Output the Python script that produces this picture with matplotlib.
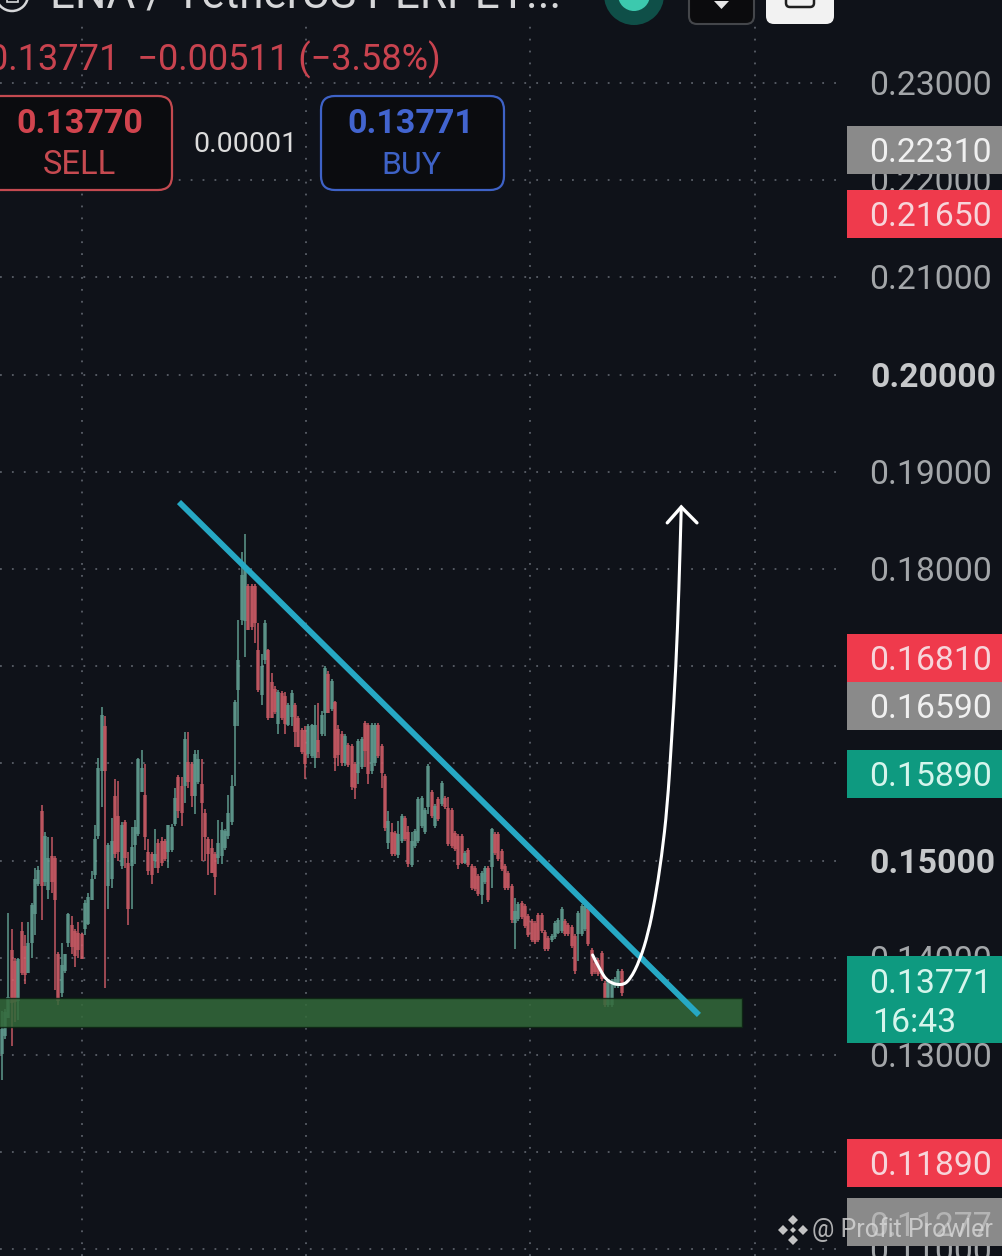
import matplotlib
matplotlib.use("Agg")
import matplotlib.pyplot as plt
from matplotlib.patches import FancyBboxPatch, Rectangle, Circle, Polygon, PathPatch
from matplotlib.path import Path

plt.rcParams['font.family'] = ['Roboto', 'DejaVu Sans']

BG = '#0f1219'
UP = '#66a698'
DOWN = '#d65f6a'

# Candles, in ten-thousandths of a price unit
high = [1345,1347,1446,1430,1400,1400,1437,1423,1437,1456,1492,1494,1557,1529,1524,1524,1505,1406,1415,1404,
        1446,1443,1430,1437,1426,1459,1467,1489,1537,1606,1658,1649,1518,1544,1584,1582,1540,1542,1509,1535,
        1542,1606,1614,1599,1522,1509,1533,1522,1524,1522,1537,1538,1575,1588,1586,1632,1632,1601,1614,1614,
        1605,1553,1524,1522,1509,1542,1540,1533,1568,1588,1665,1748,1818,1836,1785,1785,1785,1744,1713,1748,
        1718,1693,1680,1676,1674,1673,1662,1676,1662,1649,1636,1638,1641,1641,1660,1662,1654,1700,1695,
        1687,1664,1640,1633,1630,1621,1620,1601,1625,1627,1644,1642,1642,1642,1642,1620,1589,1551,1539,1530,
        1541,1548,1546,1536,1529,1532,1565,1566,1554,1599,1573,1558,1565,1582,1566,1565,1554,1530,1527,1527,
        1510,1513,1496,1494,1486,1489,1494,1494,1534,1529,1529,1512,1496,1489,1476,1462,1457,1458,1455,1445,
        1440,1438,1446,1446,1429,1422,1424,1438,1441,1452,1440,1436,1434,1424,1448,1455,1455,1452,1410,1397,
        1400,1407,1376,1378,1378,1380,1388,1388]
low = [1274,1316,1338,1309,1334,1336,1382,1373,1384,1400,1423,1474,1439,1474,1461,1467,1367,1351,1360,1384,
       1411,1404,1391,1400,1399,1423,1434,1459,1481,1522,1555,1369,1450,1472,1503,1500,1491,1492,1434,1450,
       1496,1525,1571,1511,1485,1476,1492,1487,1494,1500,1492,1509,1536,1544,1536,1559,1575,1555,1548,1579,
       1500,1500,1485,1487,1465,1496,1496,1511,1522,1537,1577,1638,1742,1709,1737,1737,1724,1673,1660,1702,
       1645,1647,1651,1630,1645,1630,1638,1638,1617,1617,1610,1584,1606,1606,1595,1612,1628,1628,1652,
       1654,1592,1597,1597,1597,1596,1573,1563,1579,1594,1596,1579,1589,1597,1606,1575,1530,1512,1505,1505,
       1503,1518,1520,1493,1493,1513,1518,1534,1527,1548,1544,1534,1541,1556,1553,1515,1513,1510,1491,1496,
       1496,1493,1470,1469,1464,1455,1476,1457,1472,1506,1500,1489,1470,1470,1436,1409,1438,1440,1431,1421,
       1416,1414,1416,1426,1407,1407,1416,1419,1424,1426,1422,1422,1410,1383,1397,1422,1428,1412,1381,1383,
       1381,1376,1349,1349,1349,1369,1369,1361]
open_ = [1301,1320,1338,1408,1397,1356,1428,1412,1384,1415,1445,1476,1551,1478,1470,1505,1503,1404,1364,1386,
         1415,1434,1428,1426,1424,1430,1435,1459,1485,1525,1592,1638,1474,1481,1566,1546,1494,1540,1498,1494,
         1516,1527,1571,1568,1509,1507,1500,1518,1520,1520,1509,1511,1538,1586,1577,1577,1601,1599,1566,1581,
         1579,1549,1522,1513,1507,1503,1505,1513,1525,1540,1638,1676,1748,1746,1783,1783,1783,1717,1670,1706,
         1717,1684,1677,1641,1672,1669,1640,1648,1660,1647,1634,1634,1610,1608,1606,1624,1630,1652,1692,
         1656,1663,1635,1630,1600,1619,1618,1599,1590,1596,1642,1640,1592,1600,1640,1618,1587,1518,1529,1528,
         1506,1520,1544,1529,1495,1515,1520,1536,1529,1555,1571,1536,1563,1558,1564,1554,1552,1528,1525,1525,
         1498,1511,1494,1492,1484,1465,1478,1492,1493,1527,1527,1510,1494,1487,1474,1436,1440,1456,1453,1443,
         1438,1436,1444,1444,1427,1420,1418,1421,1426,1428,1438,1434,1432,1422,1424,1425,1430,1450,1408,1395,
         1398,1405,1374,1351,1351,1371,1371,1386]
close = [1327,1344,1360,1353,1355,1399,1384,1382,1415,1454,1481,1490,1474,1525,1503,1478,1459,1356,1393,1404,
         1445,1411,1402,1408,1399,1456,1463,1481,1522,1595,1650,1592,1516,1520,1507,1509,1537,1503,1450,1514,
         1535,1605,1595,1524,1489,1485,1507,1492,1498,1502,1537,1535,1564,1551,1549,1625,1581,1566,1610,1605,
         1559,1524,1507,1487,1483,1518,1531,1530,1549,1577,1663,1706,1794,1801,1737,1740,1744,1676,1700,1744,
         1647,1647,1653,1673,1647,1641,1660,1672,1632,1617,1612,1599,1638,1639,1639,1606,1650,1698,1652,
         1685,1606,1609,1600,1628,1598,1576,1575,1623,1625,1613,1589,1640,1640,1608,1590,1534,1541,1507,1507,
         1527,1546,1522,1496,1520,1530,1563,1564,1552,1597,1546,1556,1543,1580,1555,1517,1515,1512,1495,1498,
         1508,1495,1472,1471,1466,1487,1492,1459,1532,1508,1502,1491,1472,1472,1439,1448,1455,1442,1433,1423,
         1418,1416,1418,1428,1409,1409,1422,1436,1439,1450,1424,1424,1412,1386,1446,1453,1453,1414,1383,1385,
         1383,1378,1351,1376,1376,1378,1386,1364]

# Price axis
axis_ticks = [0.23, 0.22, 0.21, 0.20, 0.19, 0.18, 0.17, 0.16, 0.15, 0.14, 0.13, 0.12, 0.11]
tick_labels = ['0.23000', '0.22000', '0.21000', '0.20000', '0.19000', '0.18000', '', '', '0.15000', '0.14000', '0.13000', '', '0.11000']
bold_ticks = ['0.20000', '0.15000']
last_price = 0.13771

# Drawn levels on the price axis
level_prices = [0.22310, 0.21650, 0.16810, 0.16590, 0.15890, 0.11890, 0.11277]
level_labels = ['0.22310', '0.21650', '0.16810', '0.16590', '0.15890', '0.11890', '0.11277']
level_kinds = ['grey', 'red', 'red', 'grey', 'teal', 'red', 'grey']
level_nudge_px = [0, 0, -27, 0, 0, 0, 0]   # the axis pushes colliding labels apart

# Support zone and trend line
zone_low, zone_high = 0.13288, 0.13586
zone_end_index = 222.1
trend_index = [53.2, 209.2]
trend_price = [0.18689, 0.13412]

# Projected path
path_index = [177.3, 179.5, 181.9, 186.0, 188.5, 191.5, 194.0, 196.0, 198.0, 199.7, 201.0, 202.3, 203.2, 203.9]
path_price = [0.14029, 0.13874, 0.13751, 0.13713, 0.13772, 0.13977, 0.14255, 0.14595, 0.15037, 0.15551, 0.16241, 0.16992, 0.17784, 0.18638]
head_index = [199.7, 203.9, 208.6]
head_price = [0.18475, 0.18638, 0.18475]

# Grid columns, as candle positions
grid_columns = [24.1, 91.3, 158.5, 226.0]

W, H = 1003, 1256
fig = plt.figure(figsize=(W / 100, H / 100), dpi=100, facecolor=BG)

PX_PER_BAR = 3.333
X0 = 1.67
def idx(px):
    return (px - X0) / PX_PER_BAR
def price(py):
    return 0.13 + (1055 - py) / 9720

ax = fig.add_axes([0, 0, 1, 1], facecolor=BG)
ax.set_xlim(idx(0), idx(W))
ax.set_ylim(price(H), price(0))
ax.axis('off')

grid_end = idx(845)
GRID = dict(color='#5a5f68', lw=1.3, linestyles=(0, (1.0, 5.6)))
ax.hlines(axis_ticks + [last_price], idx(0), grid_end, zorder=1, **GRID)
ax.vlines(grid_columns, price(H), price(24), zorder=1, **GRID)

# Candles
n = len(high)
for i in range(n):
    up = close[i] >= open_[i]
    col = UP if up else DOWN
    ax.vlines(i, low[i] / 1e4, high[i] / 1e4, color=col, lw=1.25, alpha=0.8, zorder=2)
    ax.bar(i, abs(close[i] - open_[i]) / 1e4, bottom=min(open_[i], close[i]) / 1e4,
           width=1.25, color=col, alpha=0.6, lw=0, zorder=3)

# Zone
ax.add_patch(Rectangle((idx(-10), zone_low), zone_end_index - idx(-10), zone_high - zone_low,
                       facecolor='#33693a', edgecolor='#0d2413', lw=1, alpha=0.86, zorder=4))
# Trend line
ax.plot(trend_index, trend_price, color='#26a8c4', lw=4.2, solid_capstyle='butt', zorder=5)

# Projection, smoothed through the read points
pts = list(zip(path_index, path_price))
verts = [pts[0]]
codes = [Path.MOVETO]
for a, b in zip(pts[1:-1], pts[2:]):
    verts += [a, ((a[0] + b[0]) / 2, (a[1] + b[1]) / 2)]
    codes += [Path.CURVE3, Path.CURVE3]
verts.append(pts[-1])
codes.append(Path.LINETO)
ax.add_patch(PathPatch(Path(verts, codes), facecolor='none', edgecolor='white', lw=2.2, capstyle='round', zorder=6))
ax.plot(head_index, head_price, color='white', lw=2.4, solid_capstyle='round', solid_joinstyle='miter', zorder=6)

# Axis labels
TEXT_SHIFT = 3 / 9720
for p, t in zip(axis_ticks, tick_labels):
    is_bold = t in bold_ticks
    ax.text(idx(996 if is_bold else 992), p - TEXT_SHIFT, t, ha='right', va='center',
            fontsize=24.3, zorder=7, color='#c6c8ca' if is_bold else '#a3a6a9',
            fontweight='bold' if is_bold else 'normal', clip_on=True)

# UI layer in pixel coordinates
ui = fig.add_axes([0, 0, 1, 1], facecolor='none')
ui.set_xlim(0, W)
ui.set_ylim(H, 0)
ui.axis('off')

kinds = {'grey': ('#8a8a8a', '#f0f0f0'), 'red': ('#ef3a4c', '#f7d5da'), 'teal': ('#0e9a80', '#d5f5ec')}
for p, t, k, nudge in zip(level_prices, level_labels, level_kinds, level_nudge_px):
    y = 1055 - (p - 0.13) * 9720 + nudge
    bg, fg = kinds[k]
    ui.add_patch(Rectangle((847, y - 24), 156, 48, facecolor=bg, edgecolor='none', zorder=8))
    if t == '0.11277':
        ui.text(992, y + 5, t, ha='right', va='center', fontsize=24.3, color='#b4b4b4', zorder=9)
    else:
        ui.text(992, y + 3, t, ha='right', va='center', fontsize=24.3, color=fg, zorder=9)

ui.add_patch(Rectangle((847, 956), 156, 87, facecolor='#0e9a80', edgecolor='none', zorder=8))
ui.text(992, 984, '0.13771', ha='right', va='center', fontsize=24.3, color='#d5f5ec', zorder=9)
ui.text(872, 1023, '16:43', ha='left', va='center', fontsize=24.3, color='#d5f5ec', zorder=9)

# Header
ui.text(50, 8, 'ENA / TetherUS PERPET...', ha='left', va='baseline', fontsize=31.7, color='#d6d7d9', zorder=9, clip_on=True)
ui.add_patch(Circle((12, -5), 16, facecolor='none', edgecolor='#d6d7d9', lw=1.8, zorder=9))
ui.add_patch(Rectangle((7, -6), 11, 8, facecolor='none', edgecolor='#d6d7d9', lw=1.2, zorder=9))
ui.add_patch(Circle((634, -5), 30, facecolor='#0f4f48', edgecolor='none', zorder=8))
ui.add_patch(Circle((634, -5), 16, facecolor='#3cc9ae', edgecolor='none', zorder=9))
ui.add_patch(FancyBboxPatch((689, -30), 65, 54, boxstyle='round,pad=0,rounding_size=8',
                            facecolor='#0b0b0d', edgecolor='#44464a', lw=1.5, zorder=8))
ui.add_patch(Polygon([[714, 1], [729, 1], [721.5, 9]], closed=True, facecolor='#e6e6e6', edgecolor='none', zorder=9))
ui.add_patch(FancyBboxPatch((766, -30), 68, 54, boxstyle='round,pad=0,rounding_size=8',
                            facecolor='#f2f2f2', edgecolor='none', zorder=8))
ui.add_patch(FancyBboxPatch((786, -10), 28, 17, boxstyle='round,pad=0,rounding_size=4',
                            facecolor='none', edgecolor='#202020', lw=1.8, zorder=9))

ui.text(-12, 60, '0.13771  −0.00511 (−3.58%)', ha='left', va='center', fontsize=26, color='#c8434f', zorder=9)

# Sell and buy buttons
ui.add_patch(FancyBboxPatch((-30, 96), 202, 94, boxstyle='round,pad=0,rounding_size=14',
                            facecolor='#0b0c0f', edgecolor='#c44a50', lw=1.6, zorder=8))
ui.text(80, 124, '0.13770', ha='center', va='center', fontsize=24.5, fontweight='bold', color='#d1444e', zorder=9)
ui.text(79, 165, 'SELL', ha='center', va='center', fontsize=23.5, color='#c64a50', zorder=9)
ui.text(245.5, 144, '0.00001', ha='center', va='center', fontsize=20.5, color='#dcdcdc', zorder=9)
ui.add_patch(FancyBboxPatch((321, 96), 183, 94, boxstyle='round,pad=0,rounding_size=14',
                            facecolor='#0b0c0f', edgecolor='#3e62c6', lw=1.6, zorder=8))
ui.text(411, 124, '0.13771', ha='center', va='center', fontsize=24.5, fontweight='bold', color='#4264cf', zorder=9)
ui.text(411, 165, 'BUY', ha='center', va='center', fontsize=23, color='#3e62c6', zorder=9)

# Watermark
wm = '#d8d8d8'
for cx, cy in [(793, 1220), (793, 1240), (783, 1230), (803, 1230)]:
    ui.add_patch(Polygon([[cx - 5, cy], [cx, cy - 5], [cx + 5, cy], [cx, cy + 5]], closed=True,
                         facecolor=wm, edgecolor='none', alpha=0.9, zorder=10))
ui.add_patch(Polygon([[790, 1230], [793, 1227], [796, 1230], [793, 1233]], closed=True,
                     facecolor=wm, edgecolor='none', alpha=0.9, zorder=10))
ui.text(812, 1230, '@ Profit Prowler', ha='left', va='center', fontsize=18, color=wm, alpha=0.8, zorder=10)

fig.savefig('out.png', dpi=100, facecolor=BG)
